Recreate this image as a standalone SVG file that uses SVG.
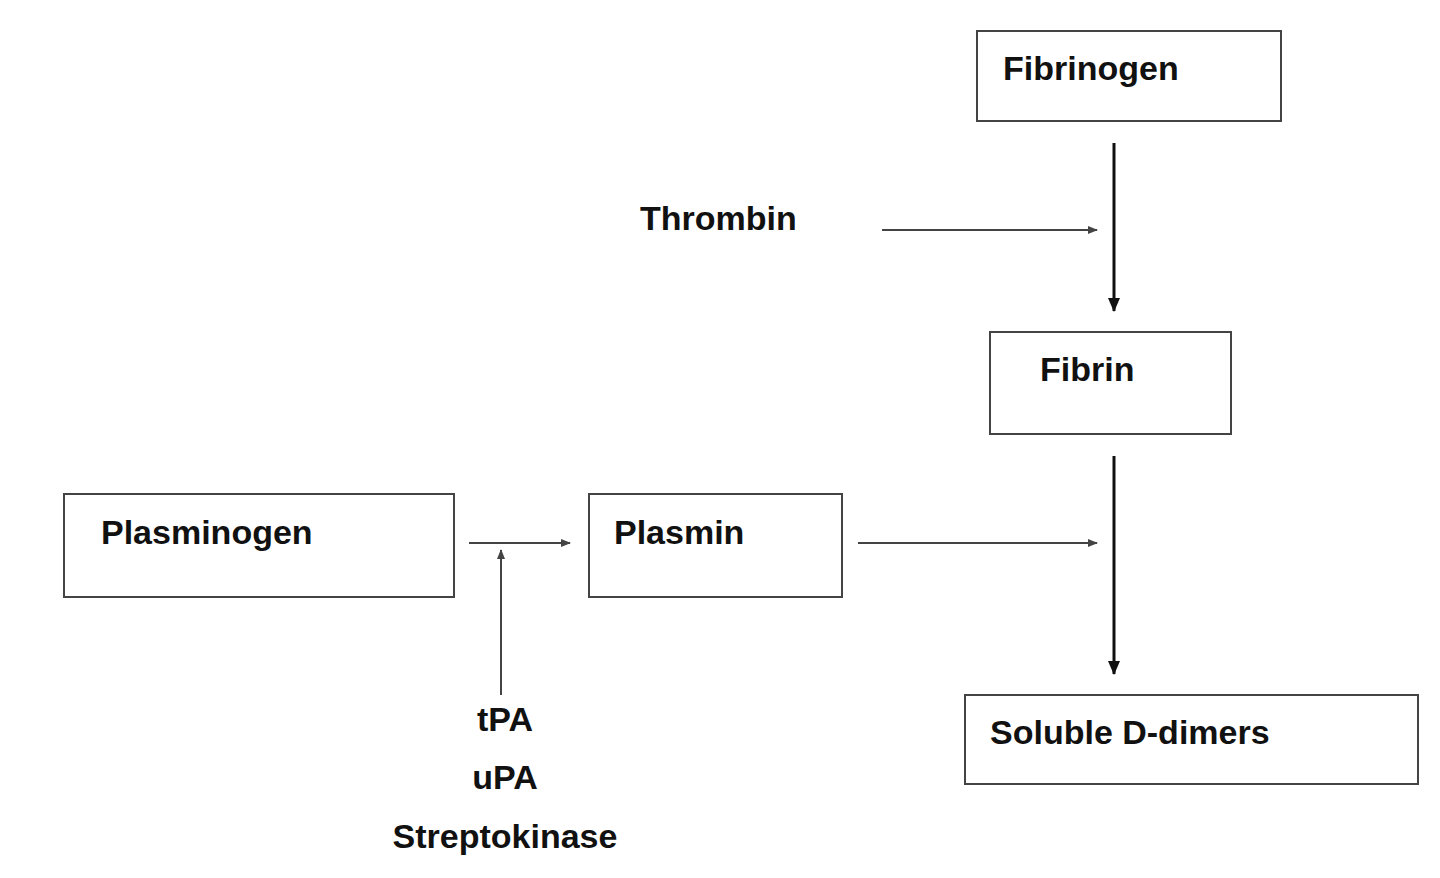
<svg xmlns="http://www.w3.org/2000/svg" width="1440" height="878" viewBox="0 0 1440 878">
<style>
rect{fill:#fff;stroke:#444;stroke-width:2}
text{font-family:"Liberation Sans",Arial,sans-serif;font-weight:bold;font-size:34px;fill:#111}
.t{stroke:#444;stroke-width:2;fill:none}
.k{stroke:#111;stroke-width:3;fill:none}
</style>
<defs>
<marker id="a" markerWidth="10" markerHeight="8" refX="9" refY="4" orient="auto" markerUnits="userSpaceOnUse"><path d="M0,0L10,4L0,8z" fill="#444"/></marker>
<marker id="b" markerWidth="14" markerHeight="12" refX="13" refY="6" orient="auto" markerUnits="userSpaceOnUse"><path d="M0,0L14,6L0,12z" fill="#111"/></marker>
</defs>
<rect width="1440" height="878" style="fill:#fff;stroke:none"/>
<g id="fibrinogen"><rect x="977" y="31" width="304" height="90"/><text x="1003" y="80">Fibrinogen</text></g>
<g id="fibrin"><rect x="990" y="332" width="241" height="102"/><text x="1040" y="381">Fibrin</text></g>
<g id="plasminogen"><rect x="64" y="494" width="390" height="103"/><text x="101" y="544">Plasminogen</text></g>
<g id="plasmin"><rect x="589" y="494" width="253" height="103"/><text x="614" y="544">Plasmin</text></g>
<g id="ddimers"><rect x="965" y="695" width="453" height="89"/><text x="990" y="744">Soluble D-dimers</text></g>
<g id="thrombin"><text x="640" y="230">Thrombin</text></g>
<g id="activators"><text x="505" y="731" text-anchor="middle">tPA</text><text x="505" y="789" text-anchor="middle">uPA</text><text x="505" y="848" text-anchor="middle">Streptokinase</text></g>
<g id="connectors">
<path class="k" d="M1114,143V311" marker-end="url(#b)"/>
<path class="k" d="M1114,456V674" marker-end="url(#b)"/>
<path class="t" d="M882,230H1097" marker-end="url(#a)"/>
<path class="t" d="M858,543H1097" marker-end="url(#a)"/>
<path class="t" d="M469,543H570" marker-end="url(#a)"/>
<path class="t" d="M501,695V550" marker-end="url(#a)"/>
</g>
</svg>
